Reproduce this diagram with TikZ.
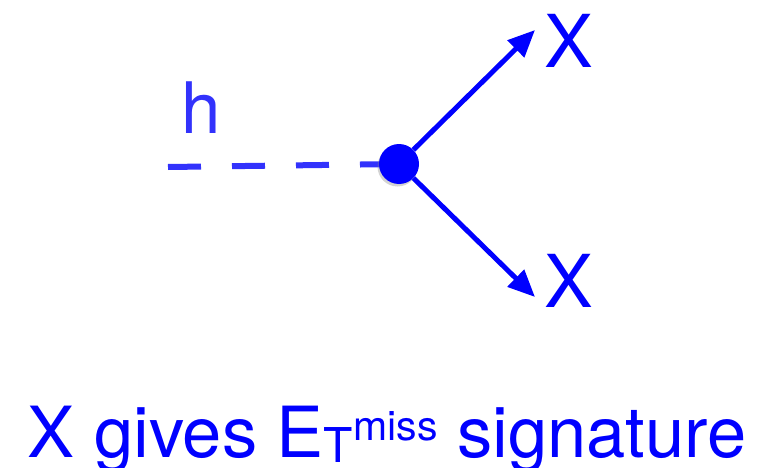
\documentclass[tikz,border=0pt]{standalone}
\usepackage{fontspec}
\setmainfont{TeX Gyre Heros}
\usetikzlibrary{arrows.meta,shadows}
\definecolor{higgsblue}{RGB}{50,50,252}
\definecolor{invblue}{RGB}{0,0,255}
\begin{document}
\begin{tikzpicture}[
    x=1pt, y=-1pt,
    vertex/.style={circle, fill=invblue, minimum size=40pt, inner sep=0pt,
                   drop shadow={opacity=0.35, shadow xshift=-1.5pt, shadow yshift=-2.5pt}},
    scalar/.style={draw=higgsblue, line width=6pt, dash pattern=on 33pt off 31pt},
    fermion/.style={draw=invblue, line width=5pt, -{Triangle[length=27pt, width=23pt]}},
    plbl/.style={font=\fontsize{73}{80}\selectfont, text=invblue, inner sep=0pt},
    hlbl/.style={font=\fontsize{71}{80}\selectfont, text=higgsblue, inner sep=0pt},
    caption/.style={font=\fontsize{70.5}{84}\selectfont, text=invblue, inner sep=0pt, anchor=base}
]
\useasboundingbox (0,0) rectangle (776,468);

%  -- Higgs line into the vertex  --
\coordinate (hin) at (168,167);
\coordinate (vc) at (399,164);
\draw[scalar] (hin) -- (vc);
\node[vertex] (v) at (vc) {};
\node[hlbl] (h) at (201,108) {h};

%  -- Outgoing X pair  --
\coordinate (xup) at (535,30);
\coordinate (xdn) at (535,297);
\draw[fermion] (v) -- (xup);
\draw[fermion] (v) -- (xdn);
\node[plbl] (x1) at (569,41) {X};
\node[plbl] (x2) at (569,281) {X};

%  -- Caption  --
\node[caption] (cap) at (387,457) {X gives E\raisebox{-5pt}{\fontsize{48}{50}\selectfont T}\raisebox{17pt}{\fontsize{41}{44}\selectfont miss} signature};

\end{tikzpicture}
\end{document}
